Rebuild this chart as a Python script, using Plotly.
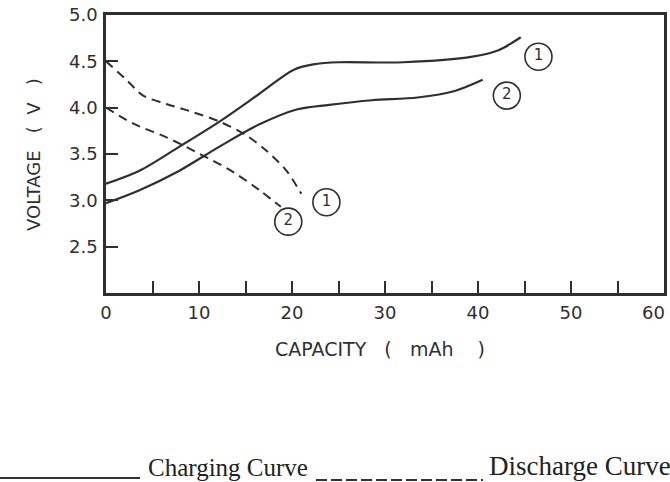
import plotly.graph_objects as go

# Charge / discharge curves of the cell (capacity in mAh, voltage in V)
cap_charge_1 = [0, 3.6, 7.9, 12.2, 16.5, 20.2, 22.5, 25.0, 32.0, 39.4, 42.2, 44.6]
volt_charge_1 = [3.18, 3.32, 3.58, 3.85, 4.15, 4.41, 4.47, 4.49, 4.49, 4.55, 4.62, 4.76]

cap_charge_2 = [0, 3.6, 7.9, 12.2, 16.5, 20.5, 24.0, 28.6, 33.5, 37.5, 40.5]
volt_charge_2 = [2.97, 3.11, 3.32, 3.58, 3.82, 3.98, 4.03, 4.08, 4.11, 4.18, 4.30]

cap_discharge_1 = [0, 2.2, 4.0, 6.5, 9.4, 12.2, 15.1, 17.2, 19.4, 21.0]
volt_discharge_1 = [4.50, 4.30, 4.13, 4.04, 3.95, 3.85, 3.70, 3.54, 3.32, 3.07]

cap_discharge_2 = [0, 2.9, 6.5, 10.1, 13.6, 16.5, 18.8]
volt_discharge_2 = [4.00, 3.83, 3.68, 3.50, 3.31, 3.11, 2.93]

# Circled curve numbers
tag_cap = [46.5, 43.1, 23.7, 19.6]
tag_volt = [4.55, 4.13, 2.98, 2.77]
tag_text = ["1", "2", "1", "2"]

x_ticks = [0, 5, 10, 15, 20, 25, 30, 35, 40, 45, 50, 55, 60]
x_tick_labels = ["0", "", "10", "", "20", "", "30", "", "40", "", "50", "", ""]
x_last_label = "60"  # drawn separately so it stays inside the page edge
y_ticks = [2.5, 3.0, 3.5, 4.0, 4.5, 5.0]
y_tick_labels = ["2.5", "3.0", "3.5", "4.0", "4.5", "5.0"]

INK = "#2f2f2f"
W, H = 670, 482
ML, MR, MT, MB = 106, 6, 15, 189
PW, PH = W - ML - MR, H - MT - MB


def paper_x(px):
    return (px - ML) / PW


def paper_y(py):
    return (H - MB - py) / PH


fig = go.Figure()

for xs, ys in [(cap_charge_1, volt_charge_1), (cap_charge_2, volt_charge_2)]:
    fig.add_trace(go.Scatter(x=xs, y=ys, mode="lines",
                             line=dict(color=INK, width=2.2, shape="spline", smoothing=0.9),
                             showlegend=False, hoverinfo="skip"))

for xs, ys in [(cap_discharge_1, volt_discharge_1), (cap_discharge_2, volt_discharge_2)]:
    fig.add_trace(go.Scatter(x=xs, y=ys, mode="lines",
                             line=dict(color=INK, width=2, dash="9px,6px",
                                       shape="spline", smoothing=0.9),
                             showlegend=False, hoverinfo="skip"))

fig.add_trace(go.Scatter(
    x=tag_cap, y=tag_volt, mode="markers+text", text=tag_text,
    textposition="middle center",
    textfont=dict(family="DejaVu Sans", size=15, color=INK),
    marker=dict(symbol="circle-open", size=27, color=INK, line=dict(width=1.6, color=INK)),
    showlegend=False, hoverinfo="skip"))

axis_common = dict(
    showline=True, linecolor=INK, linewidth=2.5, mirror=True,
    ticks="inside", tickcolor=INK, tickwidth=2, ticklen=12,
    showgrid=False, zeroline=False,
    tickfont=dict(family="DejaVu Sans", size=18, color=INK),
)

fig.update_xaxes(range=[0, 60], tickmode="array", tickvals=x_ticks, ticktext=x_tick_labels,
                 ticklabelstandoff=2, **axis_common)
fig.update_yaxes(range=[2.0, 5.0], tickmode="array", tickvals=y_ticks, ticktext=y_tick_labels,
                 ticklabelstandoff=2, **axis_common)

nb = "\u00a0"
annotations = [
    dict(text=x_last_label, x=paper_x(667), y=paper_y(312), xref="paper", yref="paper",
         showarrow=False, xanchor="right", yanchor="middle",
         font=dict(family="DejaVu Sans", size=18, color=INK)),
    dict(text="VOLTAGE" + nb * 3 + "(" + nb * 2 + "V" + nb * 3 + ")",
         x=paper_x(33), y=0.5, xref="paper", yref="paper", textangle=-90,
         showarrow=False, xanchor="center", yanchor="middle",
         font=dict(family="DejaVu Sans", size=18, color=INK)),
    dict(text="CAPACITY" + nb * 3 + "(" + nb * 3 + "mAh" + nb * 4 + ")",
         x=paper_x(380), y=paper_y(349), xref="paper", yref="paper",
         showarrow=False, xanchor="center", yanchor="middle",
         font=dict(family="DejaVu Sans", size=19, color=INK)),
    dict(text="Charging Curve", x=paper_x(146), y=paper_y(467), xref="paper", yref="paper",
         showarrow=False, xanchor="left", yanchor="middle",
         font=dict(family="Liberation Serif", size=25, color="#222")),
    dict(text="Discharge Curve", x=paper_x(487), y=paper_y(466), xref="paper", yref="paper",
         showarrow=False, xanchor="left", yanchor="middle",
         font=dict(family="Liberation Serif", size=27, color="#222")),
]

shapes = [
    dict(type="line", xref="paper", yref="paper", x0=paper_x(0), x1=paper_x(140),
         y0=paper_y(478), y1=paper_y(478), line=dict(color="#333", width=2)),
    dict(type="line", xref="paper", yref="paper", x0=paper_x(316), x1=paper_x(483),
         y0=paper_y(480), y1=paper_y(480), line=dict(color="#333", width=2, dash="11px,4px")),
]

fig.update_layout(
    width=W, height=H,
    margin=dict(l=ML, r=MR, t=MT, b=MB, autoexpand=False),
    paper_bgcolor="white", plot_bgcolor="white",
    showlegend=False,
    annotations=annotations,
    shapes=shapes,
)

fig.write_html("out.html")
